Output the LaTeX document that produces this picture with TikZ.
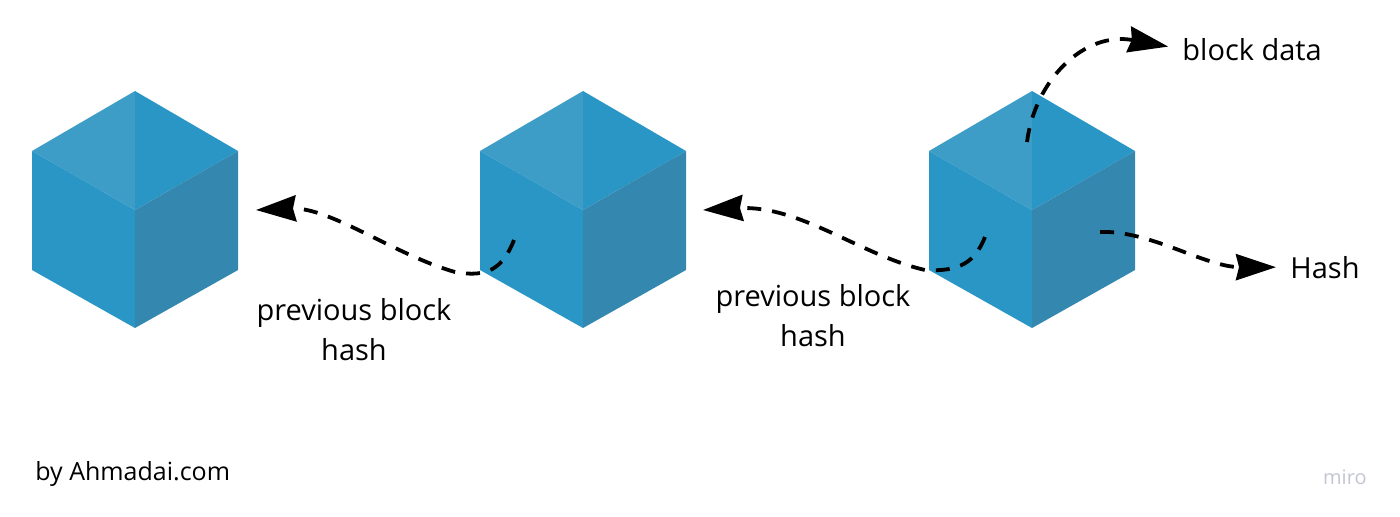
\documentclass[tikz,border=0pt]{standalone}
\usepackage{fontspec}
\setmainfont{Open Sans}
\usetikzlibrary{arrows.meta}
\definecolor{cubeTop}{HTML}{3E9DC7}
\definecolor{cubeFace}{HTML}{2A96C6}
\definecolor{cubeSide}{HTML}{3487AE}
\definecolor{miroGray}{HTML}{C3C6D1}
\tikzset{hashlink/.style={line width=1.9pt, dash pattern=on 7pt off 5.5pt,
        -{Stealth[length=20pt,width=13pt,inset=1.5pt]}},
    notetext/.style={font=\fontsize{14.5}{20}\selectfont, align=center, inner sep=0pt},
    }

\begin{document}
\begin{tikzpicture}[x=0.5pt, y=-0.5pt]
	\useasboundingbox (0,0) rectangle (1400,516);
	% the three blocks
	\foreach \cx/\name in {135/first, 583/second, 1032/third}{
		\fill[cubeTop] (\cx,91) -- (\cx-103,151) -- (\cx,210) -- cycle;
		\fill[cubeFace] (\cx,91) -- (\cx,210) -- (\cx+103,151) -- cycle;
		\fill[cubeFace] (\cx-103,151) -- (\cx-103,270) -- (\cx,328) -- (\cx,210) -- cycle;
		\fill[cubeSide] (\cx,210) -- (\cx,328) -- (\cx+103,270) -- (\cx+103,151) -- cycle;
		\coordinate (\name) at (\cx,210);
	}
	\coordinate (firstIn) at (256,210);
	\coordinate (secondOut) at (514,240);
	\coordinate (secondBend) at (455,272);
	\coordinate (secondIn) at (703,210);
	\coordinate (thirdOut) at (985,237);
	\coordinate (thirdBend) at (925,270);
	\coordinate (thirdTop) at (1027,142);
	\coordinate (thirdSide) at (1100,232);

	\node[notetext, anchor=base west] (data) at (1182,60) {block data};
	\node[notetext, anchor=base west] (hash) at (1290,278) {Hash};
	\node[notetext, anchor=base] (prevOne) at (354,360) {previous block\\hash};
	\node[notetext, anchor=base] (prevTwo) at (813,346) {previous block\\hash};
	\node[font=\fontsize{12.5}{15}\selectfont, inner sep=0pt, anchor=base west] (credit) at (35,480) {by Ahmadai.com};
	\node[font=\fontsize{10}{12}\selectfont, inner sep=0pt, text=miroGray, anchor=base east] (miro) at (1367,484) {miro};

	\draw[hashlink] (secondOut)..controls +(-11,28) and +(33,6)..(secondBend)
		..controls +(-60,-17) and +(74,-3)..(firstIn);
	\draw[hashlink] (thirdOut)..controls +(-10,25) and +(35,2)..(thirdBend)
		..controls +(-65,-15) and +(97,-5)..(secondIn);
	\draw[hashlink, shorten >=7pt] (thirdTop)..controls +(8,-62) and +(-98,-18)..(data.west);
	\draw[hashlink, shorten >=7pt] (thirdSide)..controls +(50,-2) and +(-85,0)..(hash.west);
\end{tikzpicture}
\end{document}
